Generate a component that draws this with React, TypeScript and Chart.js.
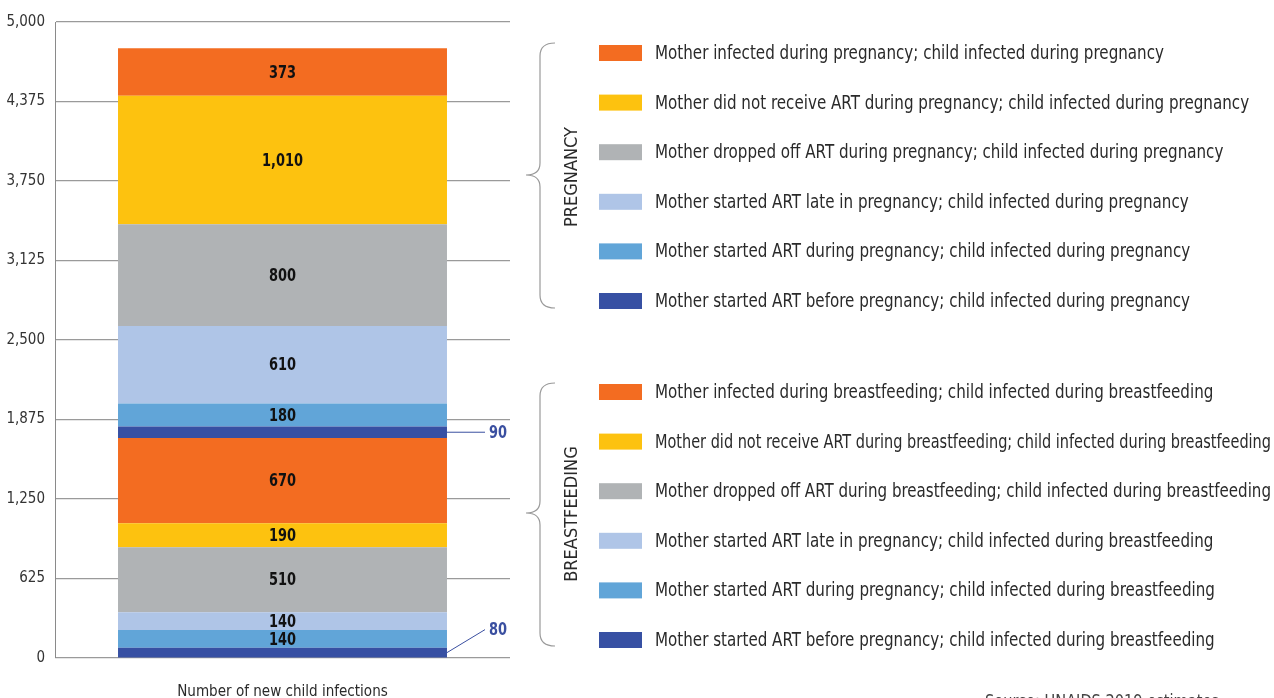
import React, { useEffect, useRef } from "react";
import { Chart, registerables } from "chart.js";

Chart.register(...registerables);

// ---- data ----
const categories = ["Number of new child infections"];
// bottom -> top within each group
const breastfeedingValues = [80, 140, 140, 510, 190, 670];
const pregnancyValues = [90, 180, 610, 800, 1010, 373];
const yTickValues = [0, 625, 1250, 1875, 2500, 3125, 3750, 4375, 5000];

const breastfeedingLabels = [
  "Mother started ART before pregnancy; child infected during breastfeeding",
  "Mother started ART during pregnancy; child infected during breastfeeding",
  "Mother started ART late in pregnancy; child infected during breastfeeding",
  "Mother dropped off ART during breastfeeding; child infected during breastfeeding",
  "Mother did not receive ART during breastfeeding; child infected during breastfeeding",
  "Mother infected during breastfeeding; child infected during breastfeeding",
];
const pregnancyLabels = [
  "Mother started ART before pregnancy; child infected during pregnancy",
  "Mother started ART during pregnancy; child infected during pregnancy",
  "Mother started ART late in pregnancy; child infected during pregnancy",
  "Mother dropped off ART during pregnancy; child infected during pregnancy",
  "Mother did not receive ART during pregnancy; child infected during pregnancy",
  "Mother infected during pregnancy; child infected during pregnancy",
];

// ---- styles ----
const segmentColors = ["#3750A3", "#61A5D8", "#AFC5E7", "#B0B3B5", "#FDC20F", "#F36C21"];
const FONT = '"Liberation Sans Narrow", "DejaVu Sans Condensed", "Roboto", sans-serif';
const W = 1274;
const H = 698;

const datasets = [
  ...breastfeedingValues.map((v, i) => ({
    label: breastfeedingLabels[i],
    data: [v],
    backgroundColor: segmentColors[i],
    calloutDy: -23,
  })),
  ...pregnancyValues.map((v, i) => ({
    label: pregnancyLabels[i],
    data: [v],
    backgroundColor: segmentColors[i],
    calloutDy: 0,
  })),
];

function scaledText(
  ctx: CanvasRenderingContext2D,
  text: string,
  x: number,
  y: number,
  sx: number,
  align: CanvasTextAlign
) {
  ctx.save();
  ctx.translate(x, y);
  ctx.scale(sx, 1);
  ctx.textAlign = align;
  ctx.fillText(text, 0, 0);
  ctx.restore();
}

function drawBrace(ctx: CanvasRenderingContext2D, top: number, tip: number, bottom: number) {
  const xl = 540;
  const xe = 555;
  const xt = 526;
  ctx.beginPath();
  ctx.moveTo(xe, top);
  ctx.quadraticCurveTo(xl, top, xl, top + 13);
  ctx.lineTo(xl, tip - 12);
  ctx.quadraticCurveTo(xl, tip, xt, tip);
  ctx.quadraticCurveTo(xl, tip, xl, tip + 12);
  ctx.lineTo(xl, bottom - 13);
  ctx.quadraticCurveTo(xl, bottom, xe, bottom);
  ctx.stroke();
}

const overlayPlugin = {
  id: "overlay",
  afterDatasetsDraw(chart: any) {
    const ctx: CanvasRenderingContext2D = chart.ctx;
    ctx.save();
    chart.data.datasets.forEach((ds: any, i: number) => {
      const bar: any = chart.getDatasetMeta(i).data[0];
      if (!bar) return;
      const v = ds.data[0];
      const cy = (bar.y + bar.base) / 2;
      const right = bar.x + bar.width / 2;
      ctx.font = `bold 18px ${FONT}`;
      ctx.textBaseline = "middle";
      if (v >= 100) {
        ctx.fillStyle = "#111";
        scaledText(ctx, v.toLocaleString("en-US"), bar.x, cy + 1, 0.8, "center");
      } else {
        const ty = cy + ds.calloutDy;
        ctx.strokeStyle = "#3A4FA0";
        ctx.lineWidth = 1;
        ctx.beginPath();
        ctx.moveTo(right, cy);
        ctx.lineTo(485, ty);
        ctx.stroke();
        ctx.fillStyle = "#3A4FA0";
        scaledText(ctx, v.toLocaleString("en-US"), 489, ty + 1, 0.8, "left");
      }
    });
    ctx.restore();
  },
  afterDraw(chart: any) {
    const ctx: CanvasRenderingContext2D = chart.ctx;
    ctx.save();
    // legend
    const groups = [
      { labels: pregnancyLabels, y0: 53 },
      { labels: breastfeedingLabels, y0: 392 },
    ];
    groups.forEach((g) => {
      const n = g.labels.length;
      for (let r = 0; r < n; r++) {
        const idx = n - 1 - r;
        const y = g.y0 + r * 49.6;
        ctx.fillStyle = segmentColors[idx];
        ctx.fillRect(599, y - 8, 43, 16);
        ctx.fillStyle = "#2A2A2A";
        ctx.font = `19px ${FONT}`;
        ctx.textBaseline = "middle";
        const wFull = ctx.measureText(g.labels[idx]).width;
        const sx = Math.min(0.885, 616 / wFull);
        scaledText(ctx, g.labels[idx], 655, y + 1, sx, "left");
      }
    });
    // braces
    ctx.strokeStyle = "#9A9A9A";
    ctx.lineWidth = 1.2;
    drawBrace(ctx, 43, 175, 308);
    drawBrace(ctx, 383, 513, 646);
    // group titles
    ctx.fillStyle = "#2A2A2A";
    ctx.font = `18px ${FONT}`;
    ctx.textAlign = "center";
    ctx.textBaseline = "middle";
    [
      ["PREGNANCY", 177],
      ["BREASTFEEDING", 514],
    ].forEach(([t, y]) => {
      ctx.save();
      ctx.translate(572, y as number);
      ctx.rotate(-Math.PI / 2);
      ctx.fillText(t as string, 0, 0);
      ctx.restore();
    });
    // x title
    const area = chart.chartArea;
    ctx.font = `16px ${FONT}`;
    ctx.fillStyle = "#2A2A2A";
    ctx.textBaseline = "alphabetic";
    scaledText(ctx, categories[0], (area.left + area.right) / 2, 696, 0.94, "center");
    // source (cut off at bottom)
    ctx.font = `18px ${FONT}`;
    ctx.fillStyle = "#444";
    scaledText(ctx, "Source: UNAIDS 2019 estimates.", 985, 707, 0.9, "left");
    ctx.restore();
  },
};

export default function App() {
  const ref = useRef<HTMLCanvasElement | null>(null);
  useEffect(() => {
    if (!ref.current) return;
    const chart = new Chart(ref.current, {
      type: "bar",
      data: { labels: categories, datasets: datasets as any },
      plugins: [overlayPlugin],
      options: {
        animation: false,
        responsive: false,
        devicePixelRatio: 1,
        layout: { padding: { left: 0, right: W - 510, top: 22, bottom: H - 658 } },
        datasets: { bar: { categoryPercentage: 1, barPercentage: 0.723, borderWidth: 0 } },
        plugins: { legend: { display: false }, tooltip: { enabled: false } },
        scales: {
          x: { stacked: true, display: false, offset: true },
          y: {
            stacked: true,
            min: 0,
            max: 5000,
            afterBuildTicks: (axis: any) => {
              axis.ticks = yTickValues.map((v) => ({ value: v }));
            },
            afterFit: (s: any) => {
              s.width = 55;
            },
            ticks: {
              padding: 10,
              color: "#333",
              font: { family: FONT, size: 15 },
              callback: (v: any) => Number(v).toLocaleString("en-US"),
            },
            grid: {
              drawTicks: false,
              lineWidth: 1.2,
              color: "#9A9A9A",
            },
            border: { display: true, color: "#8A8A8A", width: 1 },
          },
        },
      } as any,
    });
    return () => chart.destroy();
  }, []);
  return (
    <div style={{ position: "fixed", left: 0, top: 0, width: W, height: H, background: "#fff" }}>
      <canvas ref={ref} width={W} height={H} style={{ display: "block" }} />
    </div>
  );
}
